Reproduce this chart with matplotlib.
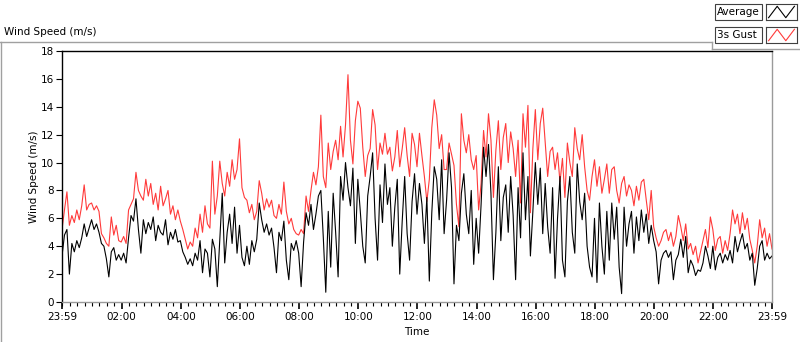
import numpy as np
import matplotlib
matplotlib.use("Agg")
import matplotlib.pyplot as plt
from matplotlib.lines import Line2D
from matplotlib.patches import Rectangle

plt.rcParams['font.family'] = ['DejaVu Sans']
plt.rcParams['font.size'] = 7.5

# wind speed every 5 minutes (m/s), 23:59 -> 23:59
avg_speed = [
    3.3, 4.8, 5.2, 2.0, 4.2, 3.6, 4.4, 3.9, 4.6, 5.6, 4.7, 5.3,
    5.9, 5.2, 5.6, 5.0, 4.2, 4.0, 3.1, 1.8, 3.6, 3.9, 3.0, 3.4,
    3.0, 3.5, 2.8, 4.6, 6.2, 5.8, 7.4, 5.2, 3.5, 5.9, 4.9, 5.7,
    5.2, 6.1, 4.4, 5.5, 5.0, 4.8, 5.9, 4.1, 5.0, 4.5, 5.2, 4.3,
    4.4, 3.6, 3.2, 2.7, 3.1, 2.6, 3.5, 3.0, 4.4, 2.1, 3.8, 3.5,
    1.8, 4.5, 3.8, 1.1, 4.5, 7.8, 2.8, 5.0, 6.3, 4.2, 6.8, 3.5,
    5.5, 3.2, 2.6, 4.0, 2.7, 4.4, 3.6, 4.5, 7.1, 5.9, 5.0, 5.6,
    4.8, 5.3, 3.9, 2.1, 5.0, 4.4, 5.8, 3.0, 1.6, 4.2, 3.7, 4.4,
    3.5, 1.1, 4.3, 6.4, 5.5, 7.0, 5.2, 6.3, 7.6, 8.0, 4.6, 0.7,
    6.5, 2.5, 7.8, 5.0, 1.8, 9.0, 7.3, 10.0, 8.2, 6.9, 9.6, 4.2,
    8.8, 6.5, 4.0, 2.8, 7.6, 9.0, 10.7, 6.0, 3.0, 8.4, 5.7, 9.9,
    7.0, 8.2, 4.0, 6.8, 8.8, 2.0, 5.8, 9.0, 4.9, 3.0, 7.2, 9.2,
    6.3, 8.5, 7.0, 4.2, 7.5, 1.5, 6.4, 9.7, 8.8, 5.9, 10.2, 4.9,
    7.3, 10.7, 8.2, 1.3, 5.5, 4.4, 7.8, 9.2, 6.3, 4.9, 8.0, 2.7,
    6.0, 3.5, 7.0, 11.1, 9.0, 11.3, 7.8, 1.6, 5.0, 9.7, 4.4, 7.5,
    8.4, 5.0, 9.0, 6.2, 1.6, 8.2, 4.6, 10.7, 5.9, 9.0, 3.3, 6.5,
    10.0, 7.0, 9.6, 4.9, 8.5, 5.4, 3.5, 8.2, 1.7, 6.0, 9.0, 3.0,
    1.8, 7.2, 9.0, 5.0, 3.5, 9.9, 7.2, 5.9, 7.8, 4.0, 2.5, 1.8,
    6.0, 1.4, 7.1, 4.0, 2.0, 6.5, 3.0, 7.1, 4.5, 6.8, 2.5, 0.6,
    6.8, 4.0, 5.6, 6.5, 3.5, 6.1, 4.4, 6.6, 5.0, 6.3, 4.2, 5.5,
    4.4, 3.6, 1.3, 3.0, 3.5, 3.7, 3.2, 3.6, 1.6, 3.0, 3.4, 4.5,
    3.2, 4.7, 2.1, 3.0, 2.6, 1.9, 2.3, 2.2, 2.8, 4.0, 3.3, 2.4,
    4.0, 2.3, 3.2, 3.5, 2.8, 3.4, 3.0, 3.7, 2.8, 4.7, 3.6, 4.3,
    4.9, 3.8, 4.2, 3.0, 3.5, 1.2, 2.4, 4.0, 4.4, 3.0, 3.5, 3.1,
    3.3,
]

gust_speed = [
    5.2, 6.6, 7.9, 5.5, 6.2, 5.7, 6.6, 5.9, 6.9, 8.4, 6.6, 7.0,
    7.1, 6.6, 6.9, 6.5, 4.9, 4.6, 4.2, 4.0, 6.1, 4.8, 5.5, 4.4,
    4.3, 4.7, 4.2, 6.6, 7.0, 7.4, 9.3, 8.0, 7.6, 7.3, 8.8, 7.6,
    8.5, 7.0, 7.8, 6.6, 8.3, 6.9, 7.4, 8.0, 6.3, 6.9, 5.9, 6.6,
    5.8, 5.2, 4.5, 3.8, 4.3, 4.0, 5.3, 4.6, 6.3, 5.0, 6.9, 5.6,
    5.3, 10.1, 6.3, 7.6, 10.1, 8.5, 7.6, 9.3, 8.3, 10.2, 8.8, 9.5,
    11.7, 8.2, 7.5, 7.3, 6.4, 7.0, 5.9, 6.5, 8.7, 7.8, 6.6, 7.4,
    6.8, 7.3, 6.2, 6.0, 7.0, 6.3, 8.6, 6.5, 5.6, 6.0, 5.2, 4.9,
    4.8, 5.2, 4.9, 7.6, 6.5, 8.0, 9.3, 8.4, 9.7, 13.4, 9.0, 8.2,
    11.4, 9.5, 10.8, 11.6, 10.2, 12.6, 10.4, 12.7, 16.3, 11.6, 9.9, 13.0,
    14.4, 13.9, 11.1, 9.0, 10.5, 11.0, 13.8, 12.7, 9.5, 11.4, 10.6, 12.1,
    10.6, 11.1, 9.4, 10.4, 12.3, 9.7, 11.0, 12.5, 10.5, 9.0, 12.1, 11.3,
    9.7, 12.1, 10.5, 9.0, 7.2, 8.8, 12.5, 14.5, 13.4, 11.0, 12.0, 9.5,
    9.5, 11.4, 10.6, 9.8, 7.0, 5.4, 13.5, 11.6, 10.7, 12.0, 10.2, 9.5,
    10.5, 6.6, 8.5, 12.3, 10.4, 13.5, 11.6, 7.5, 10.9, 13.0, 9.5, 11.8,
    12.8, 10.0, 12.2, 11.0, 9.0, 11.6, 7.1, 13.5, 11.1, 14.1, 6.4, 11.0,
    13.8, 10.2, 12.8, 13.9, 11.5, 9.0, 10.8, 11.1, 9.5, 10.7, 8.6, 10.3,
    7.5, 11.4, 10.0, 9.0, 12.5, 11.0, 10.2, 12.0, 9.7, 8.0, 7.3, 9.0,
    10.2, 8.3, 9.7, 7.8, 8.8, 9.9, 7.8, 9.5, 9.7, 8.0, 7.1, 8.5,
    9.0, 7.6, 8.4, 8.0, 6.9, 8.3, 7.3, 8.6, 8.8, 7.3, 5.9, 8.0,
    5.4, 4.6, 4.0, 4.4, 5.0, 5.2, 4.4, 5.0, 4.0, 4.7, 6.2, 5.4,
    4.4, 5.6, 3.8, 4.2, 3.4, 4.0, 2.8, 3.6, 4.4, 5.2, 3.9, 6.1,
    5.2, 3.7, 4.5, 4.7, 3.5, 4.4, 3.7, 4.9, 6.6, 5.6, 6.3, 4.9,
    6.4, 5.2, 6.0, 4.5, 3.7, 2.8, 4.0, 5.9, 4.6, 5.3, 4.0, 4.9,
    3.8,
]

tick_labels = ['23:59', '02:00', '04:00', '06:00', '08:00', '10:00', '12:00',
               '14:00', '16:00', '18:00', '20:00', '22:00', '23:59']
y_ticks = [0, 2, 4, 6, 8, 10, 12, 14, 16, 18]

minutes = np.arange(len(avg_speed)) * 5  # minutes since 23:59
major = [0] + [1 + 120 * k for k in range(1, 12)] + [1440]
minor = [1 + 15 * k for k in range(96)]

fig = plt.figure(figsize=(8, 3.42), dpi=100)
ax = fig.add_axes([62 / 800, 1 - 302 / 342, 710 / 800, 251 / 342])

ax.plot(minutes, gust_speed, color='#ff3a3a', lw=0.8)
ax.plot(minutes, avg_speed, color='black', lw=0.8)

ax.set_xlim(0, 1440)
ax.set_ylim(0, 18)
ax.set_yticks(y_ticks)
ax.set_xticks(major)
ax.set_xticklabels(tick_labels)
ax.set_xticks(minor, minor=True)
ax.tick_params(axis='y', length=4, width=0.8, pad=2)
ax.tick_params(axis='x', which='major', length=5, width=1.2, pad=2)
ax.tick_params(axis='x', which='minor', length=3, width=0.8)
ax.set_xlabel('Time', labelpad=4)
ax.set_ylabel('Wind Speed (m/s)', labelpad=1)

for side in ['top', 'left']:
    ax.spines[side].set_color('black')
    ax.spines[side].set_linewidth(1.0)
for side in ['bottom', 'right']:
    ax.spines[side].set_color('#9a9a9a')
    ax.spines[side].set_linewidth(1.0)

# LabVIEW-style frame and title
fig.text(4 / 800, 1 - 32 / 342, 'Wind Speed (m/s)', ha='left', va='center')
frame = '#a0a0a0'
fig.add_artist(Line2D([0, 712 / 800], [1 - 42 / 342] * 2, color=frame, lw=1))
fig.add_artist(Line2D([1 / 800] * 2, [0, 1 - 42 / 342], color=frame, lw=1))
fig.add_artist(Line2D([712 / 800] * 2, [1 - 49 / 342, 1 - 42 / 342], color=frame, lw=1))
fig.add_artist(Line2D([712 / 800, 1], [1 - 49 / 342] * 2, color=frame, lw=1))

# legend
for i, (name, col) in enumerate([('Average', 'black'), ('3s Gust', '#ff3a3a')]):
    top = 4 + 23 * i
    fig.add_artist(Rectangle((715 / 800, 1 - (top + 16) / 342), 47 / 800, 16 / 342,
                             fc='white', ec='#404040', lw=0.8))
    fig.text(717 / 800, 1 - (top + 8) / 342, name, ha='left', va='center')
    lax = fig.add_axes([766 / 800, 1 - (top + 16) / 342, 31 / 800, 16 / 342])
    lax.plot([0, 1, 2, 3], [0, 1, 0, 1], color=col, lw=0.8)
    lax.set_xlim(-0.3, 3.3)
    lax.set_ylim(-0.2, 1.2)
    lax.set_xticks([])
    lax.set_yticks([])
    for s in lax.spines.values():
        s.set_color('#404040')
        s.set_linewidth(0.8)

fig.savefig('out.png', dpi=100)
